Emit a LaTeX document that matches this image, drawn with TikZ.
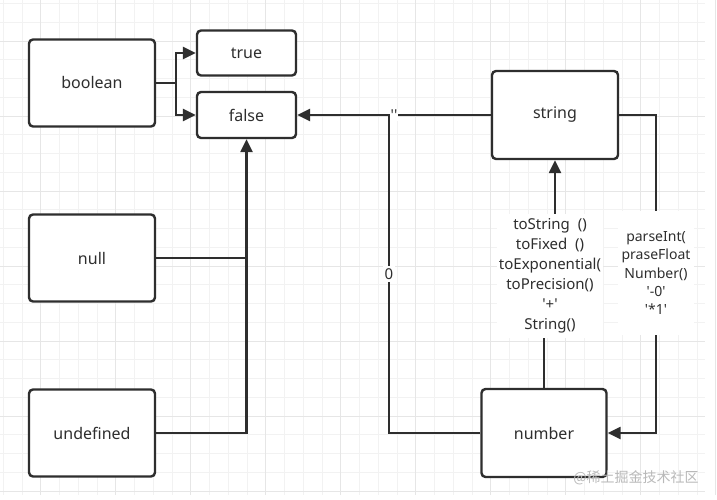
\documentclass[tikz,border=0pt]{standalone}
\usepackage{fontspec}
\setmainfont{Noto Sans}
\newfontfamily\cjkfont{Noto Sans CJK SC}
\usetikzlibrary{arrows.meta,calc}
\definecolor{ink}{HTML}{2E2E2E}
\definecolor{gridminor}{HTML}{F2F2F2}
\definecolor{gridmajor}{HTML}{E6E6E6}
\newcommand{\sq}{\textquotesingle}
\tikzset{
  typebox/.style={draw=ink, line width=2.4pt, rounded corners=4pt, fill=white, text=ink,
    font=\fontsize{16}{19}\selectfont, inner sep=0pt},
  conn/.style={draw=ink, line width=2.4pt},
  arr/.style={conn, -{Triangle[length=13pt,width=12pt]}},
  edgelabel/.style={fill=white, text=ink, align=center, inner sep=2pt},
}
\begin{document}
\begin{tikzpicture}[x=1pt,y=-1pt]
\useasboundingbox (0,0) rectangle (717,500);
\fill[white] (0,0) rectangle (717,500);
% grid
\foreach \i in {0,...,37} {
  \draw[gridminor, line width=0.8pt] ({3.2+18.75*\i},0) -- ({3.2+18.75*\i},495);
}
\foreach \j in {0,...,26} {
  \draw[gridminor, line width=0.8pt] (0,{3.5+18.75*\j}) -- (705,{3.5+18.75*\j});
}
\foreach \i in {0,...,9} {
  \draw[gridmajor, line width=0.8pt] ({40.7+75*\i},0) -- ({40.7+75*\i},495);
}
\foreach \j in {0,...,6} {
  \draw[gridmajor, line width=0.8pt] (0,{41+75*\j}) -- (705,{41+75*\j});
}

% nodes
\node[typebox, minimum width=126pt, minimum height=87pt] (boolean) at (92,83) {boolean};
\node[typebox, minimum width=99pt, minimum height=45pt] (true) at (246.5,53) {true};
\node[typebox, minimum width=99pt, minimum height=46pt] (false) at (246.5,115) {false};
\node[typebox, minimum width=126pt, minimum height=87pt] (null) at (92,258) {null};
\node[typebox, minimum width=126pt, minimum height=87pt] (undefined) at (92,433) {undefined};
\node[typebox, minimum width=126pt, minimum height=88pt] (string) at (555,115) {string};
\node[typebox, minimum width=125pt, minimum height=88pt] (number) at (544,433) {number};

% boolean -> true / false
\coordinate (bj) at (176,83);
\draw[conn] (boolean.east) -- (bj);
\draw[arr] (bj) |- (true.west);
\draw[arr] (bj) |- (false.west);

% null / undefined -> false
\draw[arr] (undefined.east) -| (false.south);
\draw[conn] (null.east) -- (null.east -| false.south);

% string -> false
\draw[arr] (string.west) -- (false.east)
  node[pos=0.5, fill=white, text=ink, inner sep=1pt, font=\fontsize{15}{18}\selectfont] (qlab) {\sq\sq};

% number -> false (via 0)
\coordinate (nj) at (389,115);
\draw[conn] (number.west) -| (nj)
  node[pos=0.75, fill=white, text=ink, inner sep=2pt, font=\fontsize{15}{18}\selectfont] (zlab) {0};

% number -> string
\coordinate (mid) at ($(number.north)!0.5!(string.south)$);
\draw[arr] (number.north) |- (mid) -| (string.south);
\node[edgelabel, font=\fontsize{15}{20}\selectfont, minimum height=124pt] (lab1) at (550,276)
  {toString\ \ ()\\toFixed\ \ ()\\toExponential(\\toPrecision()\\\sq+\sq\\String()};

% string -> number
\draw[arr] (string.east) -- ++(37,0) |- (number.east);
\node[edgelabel, font=\fontsize{14}{18.3}\selectfont, minimum height=124pt, minimum width=76pt] (lab2) at (656,273)
  {parseInt(\\praseFloat\\Number()\\\sq-0\sq\\\sq*1\sq};

% watermark
\node[text=gray!55, font=\cjkfont\fontsize{14}{16}\selectfont, inner sep=0pt] (wm) at (636,478) {@稀土掘金技术社区};
\end{tikzpicture}
\end{document}
